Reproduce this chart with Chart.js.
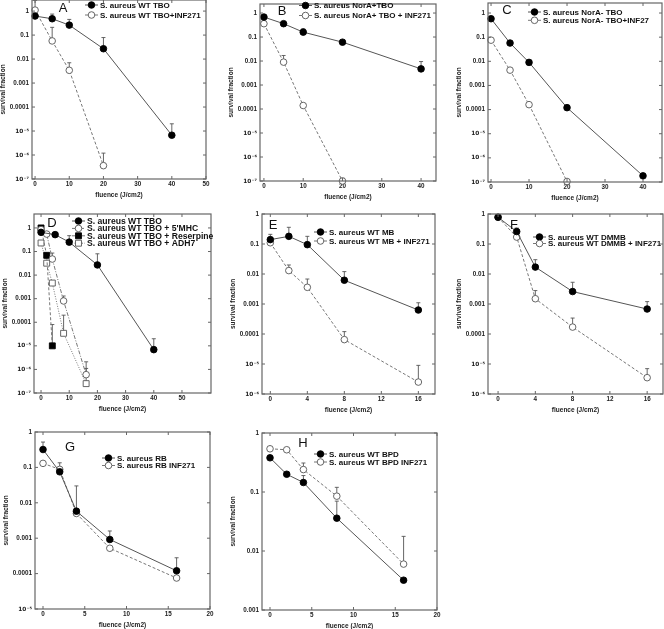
<!DOCTYPE html>
<html>
<head>
<meta charset="utf-8">
<script src="https://cdn.jsdelivr.net/npm/chart.js@4.4.0/dist/chart.umd.min.js"></script>
<style>
body{margin:0;background:#fff;width:664px;height:629px;overflow:hidden;position:relative}
canvas{position:absolute}
</style>
</head>
<body>
<script>
// tick values and labels
var yTickVals = [1, 0.1, 0.01, 0.001, 0.0001, 1e-5, 1e-6, 1e-7];
var yTickLabels = ['1', '0.1', '0.01', '0.001', '0.0001', '10\u207B\u2075', '10\u207B\u2076', '10\u207B\u2077'];
var xTicks50 = [0, 10, 20, 30, 40, 50];
var xTicks40 = [0, 10, 20, 30, 40];
var xTicks16 = [0, 4, 8, 12, 16];
var xTicks20 = [0, 5, 10, 15, 20];

// A
var aX1 = [0, 5, 10, 20, 40];
var aWT = [0.62, 0.48, 0.26, 0.027, 6.7e-6];
var aWTerr = [null, 0.75, 0.45, 0.079, 2e-5];
var aX2 = [0, 5, 10, 20];
var aINF = [1.1, 0.057, 0.0034, 3.6e-7];
var aINFerr = [2.8, 0.21, 0.007, 1.2e-6];

// B
var bX1 = [0, 5, 10, 20, 40];
var bNor = [0.68, 0.36, 0.16, 0.061, 0.0047];
var bNorErr = [0.8, null, 0.22, null, 0.0095];
var bX2 = [0, 5, 10, 20];
var bNorINF = [0.36, 0.009, 0.00014, 1e-7];
var bNorINFerr = [0.5, 0.017, null, 1.3e-7];

// C
var cX1 = [0, 5, 10, 20, 40];
var cNorm = [0.58, 0.057, 0.009, 0.00012, 1.8e-7];
var cX2 = [0, 5, 10, 20];
var cNormINF = [0.075, 0.0043, 0.00016, 1.05e-7];

// D
var dX1 = [0, 5, 10, 20, 40];
var dWT = [0.65, 0.52, 0.25, 0.027, 6.9e-6];
var dWTerr = [null, null, 0.47, 0.08, 2e-5];
var dX2 = [0, 2, 4, 8, 16];
var dMHC = [0.85, 0.55, 0.048, 0.0008, 6e-7];
var dMHCerr = [null, null, 0.086, 0.0013, 2.1e-6];
var dX3 = [0, 2, 4];
var dRes = [1.0, 0.069, 1e-5];
var dResErr = [null, null, 8e-5];
var dX4 = [0, 2, 4, 8, 16];
var dADH = [0.23, 0.032, 0.0046, 3.4e-5, 2.5e-7];
var dADHerr = [null, null, null, 2e-4, 1.1e-6];

// E
var eX = [0, 2, 4, 8, 16];
var eMB = [0.14, 0.18, 0.095, 0.0062, 0.00063];
var eMBerr = [0.21, 0.36, 0.18, 0.012, 0.0011];
var eMBINF = [0.11, 0.013, 0.0036, 6.5e-5, 2.5e-6];
var eMBINFerr = [null, 0.02, 0.0068, 0.00012, 9e-6];

// F
var fX = [0, 2, 4, 8, 16];
var fDMMB = [0.78, 0.26, 0.017, 0.0026, 0.00068];
var fDMMBerr = [null, 0.34, 0.03, 0.0053, 0.0012];
var fDMMBINF = [0.78, 0.17, 0.0015, 0.00017, 3.5e-6];
var fDMMBINFerr = [null, null, 0.0028, 0.00034, 7e-6];

// G
var gX = [0, 2, 4, 8, 16];
var gRB = [0.32, 0.075, 0.0058, 0.00092, 0.00012];
var gRBerr = [0.52, null, 0.03, 0.0016, 0.00028];
var gRBINF = [0.13, 0.088, 0.005, 0.00052, 7.5e-5];
var gRBINFerr = [null, 0.135, null, null, null];

// H
var hX = [0, 2, 4, 8, 16];
var hBPD = [0.38, 0.2, 0.145, 0.036, 0.0032];
var hBPDerr = [null, null, 0.19, 0.07, null];
var hBPDINF = [0.54, 0.52, 0.24, 0.085, 0.006];
var hBPDINFerr = [null, null, 0.31, 0.12, 0.0177];


var FONT = '"Liberation Sans", Arial, Helvetica, sans-serif';
var SUPFONT = '"DejaVu Sans", sans-serif';
var PL = 34, PT = 8, PR = 10, PB = 22;
var DASH = [3, 2];
var R = 3.3;

// box: [left, top, right, bottom] of plot frame; lg: [x, y, rowGap, fontSize] rel. to frame; lt: letter pos
var panels = [
  {letter: 'A', box: [32, 0, 206, 179], x: [-0.9, 50], xt: xTicks50, y: [1e-7, 2.9], lg: [53, 5, 10, 8], lt: [31, 8],
   series: [
     {label: 'S. aureus WT TBO', x: aX1, y: aWT, err: aWTerr, fill: true},
     {label: 'S. aureus WT TBO+INF271', x: aX2, y: aINF, err: aINFerr, fill: false, dash: DASH}]},
  {letter: 'B', box: [260, 4, 436, 181], x: [-1, 43.8], xt: xTicks40, y: [1e-7, 2.38], lg: [39, 1.5, 10, 8], lt: [22, 7],
   series: [
     {label: 'S. aureus NorA+TBO', x: bX1, y: bNor, err: bNorErr, fill: true},
     {label: 'S. aureus NorA+ TBO + INF271', x: bX2, y: bNorINF, err: bNorINFerr, fill: false, dash: DASH}]},
  {letter: 'C', box: [488, 3, 662, 182], x: [-0.8, 45], xt: xTicks40, y: [1e-7, 2.6], lg: [40, 9, 8.3, 8], lt: [19, 7],
   series: [
     {label: 'S. aureus NorA- TBO', x: cX1, y: cNorm, fill: true},
     {label: 'S. aureus NorA- TBO+INF27', x: cX2, y: cNormINF, fill: false, dash: DASH}]},
  {letter: 'D', box: [34, 214, 211, 393], x: [-2.5, 60.3], xt: xTicks50, y: [1e-7, 3.9], lg: [38, 7, 7.4, 8.6], lt: [18, 9],
   series: [
     {label: 'S. aureus WT TBO', x: dX1, y: dWT, err: dWTerr, fill: true},
     {label: "S. aureus WT TBO + 5'MHC", x: dX2, y: dMHC, err: dMHCerr, fill: false, dash: [4, 1.5, 1, 1.5]},
     {label: 'S. aureus WT TBO + Reserpine', x: dX3, y: dRes, err: dResErr, fill: true, shape: 'rect', dash: DASH},
     {label: 'S. aureus WT TBO + ADH7', x: dX4, y: dADH, err: dADHerr, fill: false, shape: 'rect', dash: [1, 1.5]}]},
  {letter: 'E', box: [262, 214, 435, 394], x: [-0.9, 17.8], xt: xTicks16, y: [1e-6, 1], lg: [52, 18, 9, 8], lt: [11, 11],
   series: [
     {label: 'S. aureus WT MB', x: eX, y: eMB, err: eMBerr, fill: true},
     {label: 'S. aureus WT MB + INF271', x: eX, y: eMBINF, err: eMBINFerr, fill: false, dash: DASH}]},
  {letter: 'F', box: [488, 214, 663, 394], x: [-1.08, 17.7], xt: xTicks16, y: [1e-6, 1], lg: [45, 23, 6.5, 8], lt: [26, 11],
   series: [
     {label: 'S. aureus WT DMMB', x: fX, y: fDMMB, err: fDMMBerr, fill: true},
     {label: 'S. aureus WT DMMB + INF271', x: fX, y: fDMMBINF, err: fDMMBINFerr, fill: false, dash: DASH}]},
  {letter: 'G', box: [35, 432, 210, 609], x: [-0.96, 20], xt: xTicks20, y: [1e-5, 1], lg: [67, 26, 7.5, 8], lt: [35, 15],
   series: [
     {label: 'S. aureus RB', x: gX, y: gRB, err: gRBerr, fill: true},
     {label: 'S. aureus RB INF271', x: gX, y: gRBINF, err: gRBINFerr, fill: false, dash: DASH}]},
  {letter: 'H', box: [262, 433, 437, 610], x: [-0.96, 20], xt: xTicks20, y: [1e-3, 1], lg: [52, 21, 8, 8], lt: [41, 10],
   series: [
     {label: 'S. aureus WT BPD', x: hX, y: hBPD, err: hBPDerr, fill: true},
     {label: 'S. aureus WT BPD INF271', x: hX, y: hBPDINF, err: hBPDINFerr, fill: false, dash: DASH}]}
];

function drawMarker(ctx, shape, x, y, r, fill) {
  ctx.save();
  ctx.setLineDash([]);
  ctx.fillStyle = fill ? '#000' : '#fff';
  ctx.strokeStyle = fill ? '#000' : '#555';
  ctx.lineWidth = 0.9;
  ctx.beginPath();
  if (shape === 'rect') {
    ctx.rect(x - r * 0.9, y - r * 0.9, r * 1.8, r * 1.8);
  } else {
    ctx.arc(x, y, r, 0, Math.PI * 2);
  }
  ctx.fill();
  ctx.stroke();
  ctx.restore();
}

var panelPlugin = {
  id: 'panel',
  beforeDatasetsDraw: function(chart) {
    // upper error bars
    var ctx = chart.ctx, xs = chart.scales.x, ys = chart.scales.y;
    ctx.save();
    ctx.strokeStyle = '#555';
    ctx.lineWidth = 0.9;
    chart.data.datasets.forEach(function(ds) {
      (ds.err || []).forEach(function(e, i) {
        if (e == null) return;
        var px = xs.getPixelForValue(ds.data[i].x);
        var py = ys.getPixelForValue(ds.data[i].y);
        var pe = ys.getPixelForValue(e);
        ctx.beginPath();
        ctx.moveTo(px, py); ctx.lineTo(px, pe);
        ctx.moveTo(px - 2, pe); ctx.lineTo(px + 2, pe);
        ctx.stroke();
      });
    });
    ctx.restore();
  },
  afterDraw: function(chart) {
    var ctx = chart.ctx, a = chart.chartArea, p = chart.options.panel;
    var xs = chart.scales.x, ys = chart.scales.y;
    ctx.save();
    // frame with inward ticks
    ctx.strokeStyle = '#666';
    ctx.lineWidth = 1.2;
    ctx.strokeRect(a.left, a.top, a.right - a.left, a.bottom - a.top);
    ctx.lineWidth = 1;
    ctx.beginPath();
    xs.ticks.forEach(function(t) {
      var px = xs.getPixelForValue(t.value);
      ctx.moveTo(px, a.bottom); ctx.lineTo(px, a.bottom - 3);
      ctx.moveTo(px, a.top); ctx.lineTo(px, a.top + 3);
    });
    ys.ticks.forEach(function(t) {
      var py = ys.getPixelForValue(t.value);
      ctx.moveTo(a.left, py); ctx.lineTo(a.left + 3, py);
      ctx.moveTo(a.right, py); ctx.lineTo(a.right - 3, py);
    });
    ctx.stroke();

    // panel letter
    ctx.fillStyle = '#111';
    ctx.font = '13px ' + FONT;
    ctx.textAlign = 'center';
    ctx.textBaseline = 'middle';
    ctx.fillText(p.letter, a.left + p.lt[0], a.top + p.lt[1]);

    // legend
    ctx.font = 'bold ' + p.lg[3] + 'px ' + FONT;
    ctx.textAlign = 'left';
    chart.data.datasets.forEach(function(ds, i) {
      var x0 = a.left + p.lg[0], y = a.top + p.lg[1] + i * p.lg[2];
      ctx.strokeStyle = ds.borderColor;
      ctx.lineWidth = 1;
      ctx.setLineDash(ds.borderDash || []);
      ctx.beginPath(); ctx.moveTo(x0, y); ctx.lineTo(x0 + 13, y); ctx.stroke();
      ctx.setLineDash([]);
      drawMarker(ctx, ds.pointStyle, x0 + 6.5, y, R, ds.filled);
      ctx.fillStyle = '#111';
      ctx.fillText(ds.label, x0 + 15, y + 0.5);
    });
    ctx.restore();
  }
};

panels.forEach(function(p) {
  var c = document.createElement('canvas');
  var w = p.box[2] - p.box[0] + PL + PR;
  var h = p.box[3] - p.box[1] + PT + PB;
  c.width = w; c.height = h;
  c.style.width = w + 'px'; c.style.height = h + 'px';
  c.style.left = (p.box[0] - PL) + 'px';
  c.style.top = (p.box[1] - PT) + 'px';
  document.body.appendChild(c);

  var datasets = p.series.map(function(s) {
    var shape = s.shape || 'circle';
    return {
      label: s.label,
      data: s.x.map(function(v, i) { return {x: v, y: s.y[i]}; }),
      showLine: true,
      borderColor: s.fill && !s.dash ? '#555' : '#777',
      borderWidth: 1,
      borderDash: s.dash || [],
      pointStyle: shape,
      pointRadius: shape === 'rect' ? R * 1.27 : R,
      pointBackgroundColor: s.fill ? '#000' : '#fff',
      pointBorderColor: s.fill ? '#000' : '#555',
      pointBorderWidth: 0.9,
      clip: false,
      err: s.err,
      filled: s.fill
    };
  });

  new Chart(c.getContext('2d'), {
    type: 'scatter',
    data: {datasets: datasets},
    options: {
      responsive: false,
      animation: false,
      events: [],
      panel: p,
      layout: {padding: {top: PT, right: PR, left: 0, bottom: 0}},
      plugins: {legend: {display: false}, tooltip: {enabled: false}},
      scales: {
        x: {
          type: 'linear', min: p.x[0], max: p.x[1],
          grid: {display: false, drawTicks: false}, border: {display: false},
          afterBuildTicks: function(s) { s.ticks = p.xt.map(function(v) { return {value: v}; }); },
          afterFit: function(s) { s.height = PB; },
          ticks: {font: {family: FONT, size: 6.3, weight: 'bold'}, color: '#222', padding: 1.5, maxRotation: 0, autoSkip: false},
          title: {display: true, text: 'fluence (J/cm2)', font: {family: FONT, size: 6.5, weight: 'bold'}, color: '#222', padding: {top: 0, bottom: 2}}
        },
        y: {
          type: 'logarithmic', min: p.y[0], max: p.y[1],
          grid: {display: false, drawTicks: false}, border: {display: false},
          afterBuildTicks: function(s) {
            s.ticks = yTickVals.filter(function(v) { return v >= p.y[0] * 0.999 && v <= p.y[1] * 1.001; })
              .map(function(v) { return {value: v}; });
          },
          afterFit: function(s) { s.width = PL; },
          ticks: {
            font: function(cx) {
              var sup = cx.tick && cx.tick.value < 1e-4 * 0.5;
              return {family: sup ? SUPFONT : FONT, size: sup ? 5.8 : 6.3, weight: 'bold'};
            },
            color: '#222', padding: 3, autoSkip: false,
            callback: function(v) { var i = yTickVals.indexOf(v); return i >= 0 ? yTickLabels[i] : ''; }
          },
          title: {display: true, text: 'survival fraction', font: {family: FONT, size: 6.5, weight: 'bold'}, color: '#222', padding: {top: 1.5, bottom: 0}}
        }
      }
    },
    plugins: [panelPlugin]
  });
});
</script>
</body>
</html>
